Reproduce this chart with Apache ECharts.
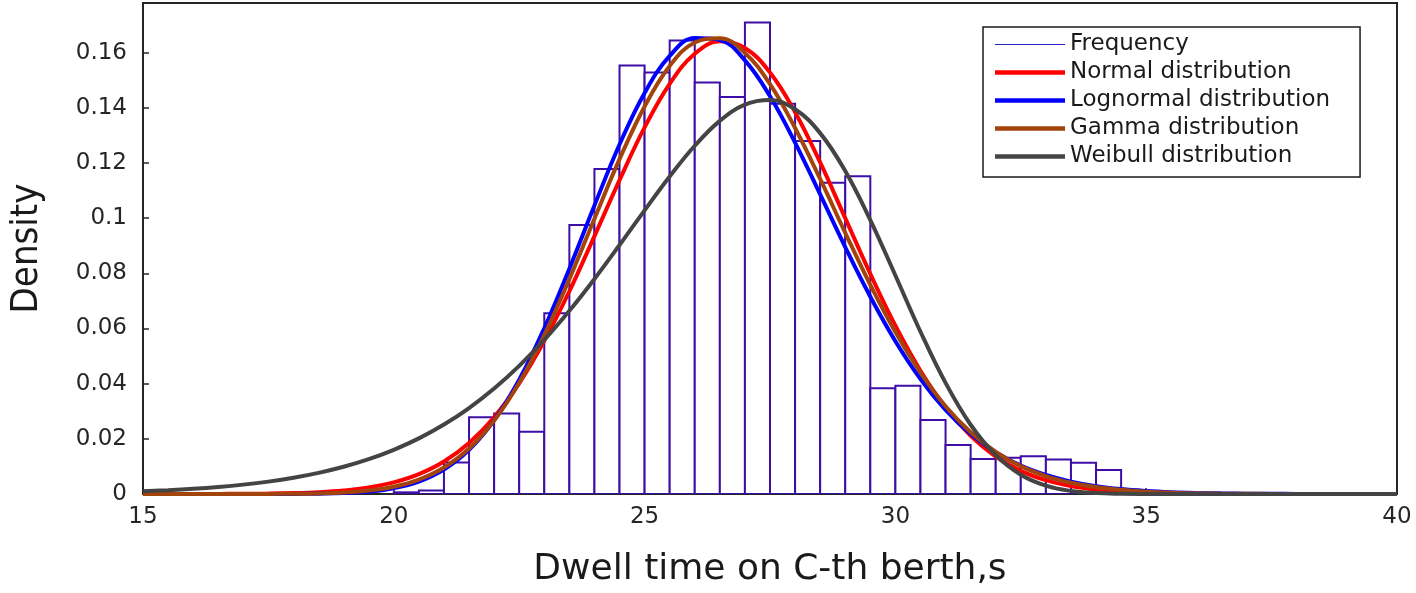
<!DOCTYPE html>
<html>
<head>
<meta charset="utf-8">
<script src="https://cdn.jsdelivr.net/npm/echarts@6/dist/echarts.min.js"></script>
<style>
html,body{margin:0;padding:0;background:#fff;}
#chart{width:1416px;height:593px;}
</style>
</head>
<body>
<div id="chart"></div>
<script>
// ---- Data ----
const xTicks = [15, 20, 25, 30, 35, 40];
const yTicks = [0, 0.02, 0.04, 0.06, 0.08, 0.1, 0.12, 0.14, 0.16];

// Histogram: bin edges and density of each bin
const binEdges = [20, 20.5, 21, 21.5, 22, 22.5, 23, 23.5, 24, 24.5, 25, 25.5, 26, 26.5, 27, 27.5, 28, 28.5, 29, 29.5, 30, 30.5, 31, 31.5, 32, 32.5, 33, 33.5, 34, 34.5, 35];
const frequency = [0.0006, 0.0013, 0.0114, 0.0278, 0.0292, 0.0226, 0.0655, 0.0975, 0.1178, 0.1553, 0.1528, 0.1644, 0.1492, 0.1439, 0.1709, 0.1415, 0.1280, 0.1128, 0.1152, 0.0383, 0.0392, 0.0268, 0.0178, 0.0127, 0.0131, 0.0137, 0.0125, 0.0113, 0.0087, 0.0010];

// Fitted curves sampled along x
const xs = [15, 15.5, 16, 16.5, 17, 17.5, 18, 18.5, 19, 19.5, 20, 20.5, 21, 21.5, 22, 22.5, 23, 23.5, 24, 24.5, 25, 25.5, 26, 26.5, 27, 27.5, 28, 28.5, 29, 29.5, 30, 30.5, 31, 31.5, 32, 32.5, 33, 33.5, 34, 34.5, 35, 35.5, 36, 36.5, 37, 37.5, 38, 38.5, 39, 39.5, 40];
const normalPdf = [0, 0, 0.00001, 0.00003, 0.00007, 0.00015, 0.00032, 0.00065, 0.00127, 0.00236, 0.0042, 0.00718, 0.01176, 0.01846, 0.0278, 0.0401, 0.0555, 0.0735, 0.0935, 0.1138, 0.1329, 0.1487, 0.1596, 0.1641, 0.1617, 0.1528, 0.1384, 0.1202, 0.1000, 0.0798, 0.0610, 0.0447, 0.0314, 0.0211, 0.0136, 0.0084, 0.0050, 0.00285, 0.00155, 0.00081, 0.00041, 0.00019, 0.00009, 0.00004, 0.00002, 0, 0, 0, 0, 0, 0];
const lognormalPdf = [0, 0, 0, 0, 0, 0, 0.00003, 0.00012, 0.00034, 0.0009, 0.00211, 0.00452, 0.00886, 0.0160, 0.0267, 0.0414, 0.0601, 0.0817, 0.1046, 0.1267, 0.1454, 0.1588, 0.1653, 0.1646, 0.1572, 0.1442, 0.1274, 0.1086, 0.0895, 0.0715, 0.0554, 0.0417, 0.0305, 0.0218, 0.0152, 0.0103, 0.0069, 0.0045, 0.00285, 0.00178, 0.0011, 0.00066, 0.00039, 0.00023, 0.00013, 0.00007, 0.00004, 0.00002, 0, 0, 0];
const gammaPdf = [0, 0, 0, 0, 0.00001, 0.00003, 0.00008, 0.00022, 0.00054, 0.00125, 0.00265, 0.00523, 0.00962, 0.0165, 0.0266, 0.0403, 0.0576, 0.0779, 0.0998, 0.1214, 0.1405, 0.1552, 0.1637, 0.1652, 0.1599, 0.1486, 0.1327, 0.1142, 0.0947, 0.0758, 0.0587, 0.0440, 0.0318, 0.0224, 0.0153, 0.0101, 0.0065, 0.0041, 0.0025, 0.0015, 0.00086, 0.00049, 0.00027, 0.00015, 0.00008, 0.00004, 0.00002, 0, 0, 0, 0];
const weibullPdf = [0.00101, 0.00139, 0.00189, 0.00255, 0.0034, 0.00449, 0.00589, 0.00766, 0.00987, 0.01263, 0.01603, 0.02017, 0.02518, 0.03117, 0.03823, 0.04646, 0.05586, 0.06641, 0.07797, 0.09025, 0.10284, 0.11511, 0.12624, 0.13527, 0.14113, 0.14279, 0.13948, 0.13083, 0.11711, 0.09932, 0.07923, 0.05883, 0.04027, 0.0251, 0.01408, 0.00698, 0.00301, 0.00111, 0.00034, 0.00009, 0.00002, 0, 0, 0, 0, 0, 0, 0, 0, 0, 0];

const seriesNames = ['Frequency', 'Normal distribution', 'Lognormal distribution', 'Gamma distribution', 'Weibull distribution'];
const xAxisTitle = 'Dwell time on C-th berth,s';
const yAxisTitle = 'Density';

// ---- Styles ----
const FONT = "'DejaVu Sans', 'Liberation Sans', sans-serif";
const barEdge = '#3d0ea6';
const colors = {normal: '#ff0000', lognormal: '#0000ff', gamma: '#a3440c', weibull: '#444444'};

const histData = frequency.map((h, i) => [binEdges[i], binEdges[i + 1], h]);
const pairs = arr => xs.map((x, i) => [x, arr[i]]);

const chart = echarts.init(document.getElementById('chart'), null, {renderer: 'canvas'});

function lineSeries(name, arr, color) {
  return {
    name: name,
    type: 'line',
    data: pairs(arr),
    smooth: 0.4,
    smoothConstraint: false,
    symbol: 'none',
    lineStyle: {color: color, width: 4},
    itemStyle: {color: color},
    clip: true,
    animation: false
  };
}

const option = {
  backgroundColor: '#ffffff',
  animation: false,
  grid: {left: 143, right: 19, top: 3, bottom: 95, show: true, borderColor: '#262626', borderWidth: 2, backgroundColor: '#fff'},
  xAxis: {
    type: 'value', min: xTicks[0], max: xTicks[xTicks.length - 1], interval: 5,
    name: xAxisTitle, nameLocation: 'middle', nameGap: 58,
    nameTextStyle: {fontFamily: FONT, fontSize: 36, color: '#1a1a1a'},
    axisLine: {show: true, onZero: false, lineStyle: {color: '#262626', width: 2}},
    axisTick: {show: true, inside: true, length: 6, lineStyle: {color: '#262626', width: 1.5}},
    axisLabel: {fontFamily: FONT, fontSize: 23, color: '#262626', margin: 12},
    splitLine: {show: false}
  },
  yAxis: {
    type: 'value', min: yTicks[0], max: 0.178, interval: 0.02,
    name: yAxisTitle, nameLocation: 'middle', nameGap: 97, nameRotate: 90,
    nameTextStyle: {fontFamily: "'Liberation Sans Narrow', 'DejaVu Sans Condensed', 'Liberation Sans', sans-serif", fontSize: 38, color: '#1a1a1a'},
    axisLine: {show: true, onZero: false, lineStyle: {color: '#262626', width: 2}},
    axisTick: {show: true, inside: true, length: 6, lineStyle: {color: '#262626', width: 1.5}},
    axisLabel: {fontFamily: FONT, fontSize: 23, color: '#262626', margin: 16, showMaxLabel: false,
      formatter: v => (yTicks.some(t => Math.abs(t - v) < 1e-9) ? String(+v.toFixed(2)) : '')},
    splitLine: {show: false}
  },
  legend: {
    orient: 'vertical', left: 983, top: 27,
    padding: [6, 30, 9, 12],
    itemWidth: 70, itemHeight: 14, itemGap: 5,
    backgroundColor: '#fff', borderColor: '#1a1a1a', borderWidth: 1.5, borderRadius: 0,
    textStyle: {fontFamily: FONT, fontSize: 23, color: '#1a1a1a'},
    itemStyle: {borderWidth: 0},
    selectedMode: false,
    data: [
      {name: seriesNames[0], icon: 'path://M0,0H70V1H0Z', itemStyle: {color: '#2a20c8'}},
      {name: seriesNames[1], icon: 'path://M0,0H70V4.5H0Z', itemStyle: {color: colors.normal}},
      {name: seriesNames[2], icon: 'path://M0,0H70V4.5H0Z', itemStyle: {color: colors.lognormal}},
      {name: seriesNames[3], icon: 'path://M0,0H70V4.5H0Z', itemStyle: {color: colors.gamma}},
      {name: seriesNames[4], icon: 'path://M0,0H70V4.5H0Z', itemStyle: {color: colors.weibull}}
    ]
  },
  series: [
    {
      name: seriesNames[0],
      type: 'custom',
      data: histData,
      encode: {x: [0, 1], y: 2},
      itemStyle: {color: barEdge},
      clip: true,
      renderItem: function (params, api) {
        const p0 = api.coord([api.value(0), api.value(2)]);
        const p1 = api.coord([api.value(1), 0]);
        return {
          type: 'rect',
          shape: {x: p0[0], y: p0[1], width: p1[0] - p0[0], height: p1[1] - p0[1]},
          style: {fill: '#ffffff', stroke: barEdge, lineWidth: 2}
        };
      }
    },
    lineSeries(seriesNames[1], normalPdf, colors.normal),
    lineSeries(seriesNames[2], lognormalPdf, colors.lognormal),
    lineSeries(seriesNames[3], gammaPdf, colors.gamma),
    lineSeries(seriesNames[4], weibullPdf, colors.weibull)
  ]
};
chart.setOption(option);
</script>
</body>
</html>
